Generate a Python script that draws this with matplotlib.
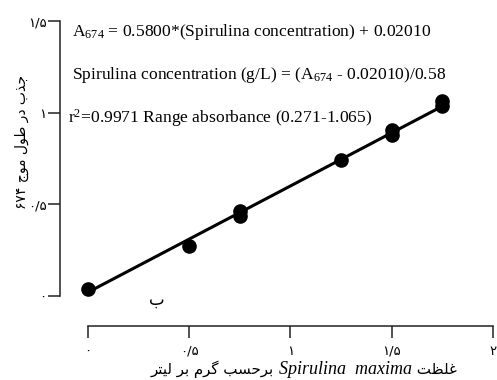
import matplotlib
matplotlib.use("Agg")
import matplotlib.pyplot as plt
from matplotlib.offsetbox import TextArea, HPacker, AnnotationBbox

# داده ها: غلظت (گرم بر لیتر) و جذب در 674 نانومتر
conc = [0, 0.5, 0.75, 0.75, 1.25, 1.5, 1.5, 1.75, 1.75]
absorb = [0.04, 0.272, 0.462, 0.438, 0.739, 0.905, 0.879, 1.065, 1.037]
slope, intercept = 0.58, 0.0201
fit_x = [0, 1.75]

xticks = [0, 0.5, 1, 1.5, 2]
xtick_labels = ["\u06f0", "\u06f0/\u06f5", "\u06f1", "\u06f1/\u06f5", "\u06f2"]
yticks = [0, 0.5, 1, 1.5]
ytick_labels = ["\u06f0", "\u06f0/\u06f5", "\u06f1", "\u06f1/\u06f5"]

# متن فارسی با شکل های نمایشی (ترتیب دیداری)
ylab = ("\u06f6\u06f7\u06f4 " + "\ufe9d\ufeee\ufee3 " + "\ufedd\ufeee\ufec3 "
        + "\ufead\ufea9 " + "\ufe8f\ufeac\ufe9f")
xlab_left = ("\ufeae\ufe98\ufef4\ufedf " + "\ufeae\ufe91 " + "\ufee1\ufeae\ufb94 "
             + "\ufe90\ufeb4\ufea3\ufeae\ufe91 ")
xlab_mid = "Spirulina  maxima"
xlab_right = " \ufe96\ufec8\ufee0\ufecf"
panel = "\ufe8f"

plt.rcParams["mathtext.fontset"] = "custom"
plt.rcParams["mathtext.rm"] = "Liberation Serif"
plt.rcParams["mathtext.it"] = "Liberation Serif:italic"

fig = plt.figure(figsize=(4.97, 3.8), dpi=100)
ax = fig.add_axes([60 / 497, 54 / 380, 433 / 497, 305 / 380])
ax.set_xlim(-0.138, 2.0)
ax.set_ylim(-0.164, 1.5)

fit_y = [slope * x + intercept for x in fit_x]
ax.plot(fit_x, fit_y, color="black", lw=2.2, solid_capstyle="round")
ax.plot(conc, absorb, "o", color="black", ms=9.5)

for s in ["top", "right"]:
    ax.spines[s].set_visible(False)
ax.spines["left"].set_bounds(0, 1.5)
ax.spines["bottom"].set_bounds(0, 2)
for s in ["left", "bottom"]:
    ax.spines[s].set_linewidth(1.1)
    ax.spines[s].set_color("#222222")

ax.set_xticks(xticks)
ax.set_xticklabels(xtick_labels, fontfamily="DejaVu Sans", fontsize=9.5)
ax.set_yticks(yticks)
ax.set_yticklabels(ytick_labels, fontfamily="DejaVu Sans", fontsize=9.5)
ax.tick_params(axis="x", length=8.6, width=1.1, pad=5, color="#222222")
ax.tick_params(axis="y", length=8.6, width=1.1, pad=1, color="#222222")

fig.text(22 / 497, 1 - 142 / 380, ylab, rotation=90, ha="center", va="center",
         fontfamily="DejaVu Sans", fontsize=10)
fig.text(157 / 497, 1 - 300 / 380, panel, ha="center", va="center",
         fontfamily="DejaVu Sans", fontsize=12)

eq_font = dict(fontfamily="Liberation Serif", fontsize=12.6, va="center", ha="left")
fig.text(72 / 497, 1 - 32 / 380,
         r"A$_{\rm 674}$ = 0.5800*(Spirulina concentration) + 0.02010", **eq_font)
fig.text(72 / 497, 1 - 75 / 380,
         r"Spirulina concentration (g/L) = (A$_{\rm 674}$ - 0.02010)/0.58", **eq_font)
fig.text(68 / 497, 1 - 118 / 380,
         r"r$^{\rm 2}$=0.9971 Range absorbance (0.271-1.065)", **eq_font)

pack = HPacker(children=[
    TextArea(xlab_left, textprops=dict(fontfamily="DejaVu Sans", fontsize=10.8)),
    TextArea(xlab_mid, textprops=dict(fontfamily="Liberation Serif", style="italic", fontsize=13)),
    TextArea(xlab_right, textprops=dict(fontfamily="DejaVu Sans", fontsize=10.8)),
], align="baseline", pad=0, sep=0)
ab = AnnotationBbox(pack, (304 / 497, 1 - 369 / 380), xycoords="figure fraction",
                    frameon=False, box_alignment=(0.5, 0.5))
fig.add_artist(ab)

fig.savefig("out.png", dpi=100)
